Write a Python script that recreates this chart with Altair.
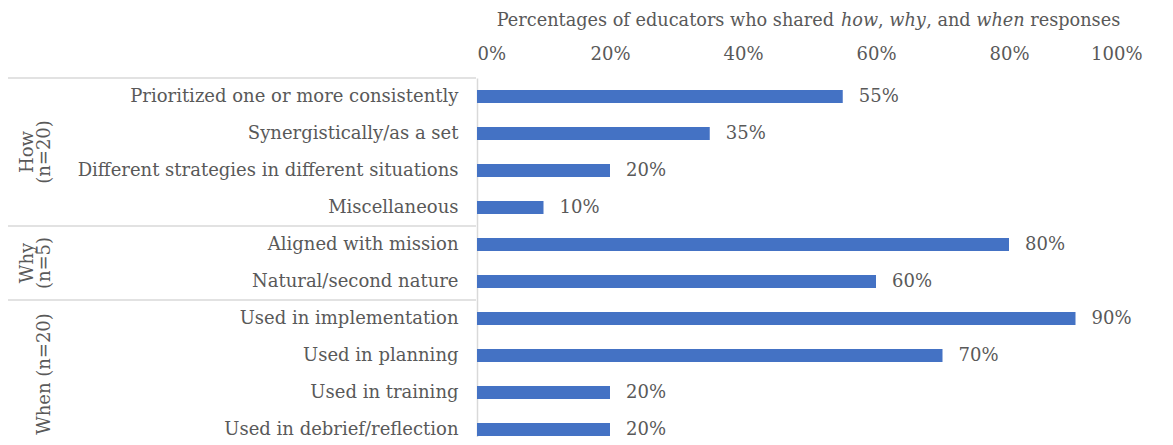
import altair as alt
import pandas as pd

# ---------------- data ----------------
categories = [
    "Prioritized one or more consistently",
    "Synergistically/as a set",
    "Different strategies in different situations",
    "Miscellaneous",
    "Aligned with mission",
    "Natural/second nature",
    "Used in implementation",
    "Used in planning",
    "Used in training",
    "Used in debrief/reflection",
]
groups = ["How", "How", "How", "How", "Why", "Why", "When", "When", "When", "When"]
values = [55, 35, 20, 10, 80, 60, 90, 70, 20, 20]

group_names = ["How", "Why", "When"]
group_labels = ["How\n(n=20)", "Why\n(n=5)", "When (n=20)"]
x_ticks = [0, 20, 40, 60, 80, 100]
title_parts = [
    ("Percentages of educators who shared ", False),
    ("how", True),
    (", ", False),
    ("why", True),
    (", and ", False),
    ("when", True),
    (" responses", False),
]

# ---------------- style ----------------
FONT = "DejaVu Serif"
FS = 18
TFS = 17.7
GRAY = "#595959"
LINE = "#d9d9d9"
BAR = "#4472C4"
PLOT_W = 665
BAND_RANGE = 370

df = pd.DataFrame({"category": categories, "group": groups, "value": values})

# first / middle / last category of each group
first_cat = [df[df.group == g].category.iloc[0] for g in group_names]
mid_cat = [df[df.group == g].category.iloc[len(df[df.group == g]) // 2 - 1] for g in group_names]
last_cat = [df[df.group == g].category.iloc[-1] for g in group_names]

y_scale = alt.Scale(domain=categories, range=[0, BAND_RANGE], paddingInner=0, paddingOuter=0)
x_scale = alt.Scale(domain=[0, 100])

y_axis = alt.Axis(
    title=None, ticks=False, domainColor=LINE, domainWidth=1.5,
    labelFont=FONT, labelFontSize=FS, labelColor=GRAY, labelPadding=19, labelLimit=0,
)
x_axis = alt.Axis(
    orient="top", values=x_ticks, labelExpr="datum.value + '%'", title=None,
    grid=False, domain=False, ticks=False, labelFont=FONT, labelFontSize=FS,
    labelColor=GRAY, labelPadding=15,
)

bars = alt.Chart(df).mark_bar(size=13, color=BAR).encode(
    x=alt.X("value:Q", scale=x_scale, axis=x_axis),
    y=alt.Y("category:N", scale=y_scale, axis=y_axis),
)

value_labels = alt.Chart(df).transform_calculate(
    label="datum.value + '%'"
).mark_text(align="left", baseline="middle", dx=16, font=FONT, fontSize=FS, color=GRAY).encode(
    x=alt.X("value:Q", scale=x_scale),
    y=alt.Y("category:N", scale=y_scale),
    text="label:N",
)

sep_top = alt.Chart(pd.DataFrame({"category": first_cat})).mark_rule(
    color=LINE, strokeWidth=1.5
).encode(
    y=alt.Y("category:N", bandPosition=0, scale=y_scale),
    x=alt.value(-470), x2=alt.value(-1),
)
sep_bottom = alt.Chart(pd.DataFrame({"category": last_cat[-1:]})).mark_rule(
    color=LINE, strokeWidth=1.5
).encode(
    y=alt.Y("category:N", bandPosition=1, scale=y_scale),
    x=alt.value(-470), x2=alt.value(-1),
)

gl = pd.DataFrame({"category": mid_cat, "label": group_labels})
multi = gl[gl.label.str.contains("\n")]
single = gl[~gl.label.str.contains("\n")]

group_multi = alt.Chart(multi).mark_text(
    angle=270, align="center", baseline="middle", lineBreak="\n", lineHeight=17,
    font=FONT, fontSize=FS, color=GRAY,
).encode(
    y=alt.Y("category:N", bandPosition=1, scale=y_scale),
    x=alt.value(-449), text="label:N",
)
group_single = alt.Chart(single).mark_text(
    angle=270, align="center", baseline="middle",
    font=FONT, fontSize=FS, color=GRAY,
).encode(
    y=alt.Y("category:N", bandPosition=1, scale=y_scale),
    x=alt.value(-432), text="label:N",
)

# ---------------- title with italic words ----------------
W = {' ': 651, ',': 651, 'P': 1413, 'a': 1221, 'c': 1147, 'd': 1311, 'e': 1212,
     'f': 762, 'g': 1311, 'h': 1317, 'n': 1317, 'o': 1233, 'p': 1311, 'r': 979,
     's': 1051, 't': 823, 'u': 1317, 'w': 1745, 'y': 1196}


def tw(s):
    return sum(W.get(ch, 1200) for ch in s) / 2048 * TFS


center = 331.5
cursor = center - sum(tw(t) for t, _ in title_parts) / 2
dummy = pd.DataFrame({"k": [0]})
title_layers = []
for txt, ital in title_parts:
    lead = len(txt) - len(txt.lstrip())
    title_layers.append(
        alt.Chart(dummy).mark_text(
            text=txt.strip(), align="left", baseline="alphabetic", font=FONT, fontSize=TFS,
            color=GRAY, fontStyle="italic" if ital else "normal",
        ).encode(x=alt.value(cursor + tw(txt[:lead])), y=alt.value(-52))
    )
    cursor += tw(txt)

chart = alt.layer(
    sep_top, sep_bottom, bars, value_labels, group_multi, group_single, *title_layers
).properties(
    width=PLOT_W, height=359,
    autosize=alt.AutoSizeParams(type="none"),
    padding={"left": 469, "top": 70, "right": 20, "bottom": 0},
    background="white",
).configure_view(stroke=None)

chart.save("out.html", embed_options={"renderer": "svg", "actions": False})
